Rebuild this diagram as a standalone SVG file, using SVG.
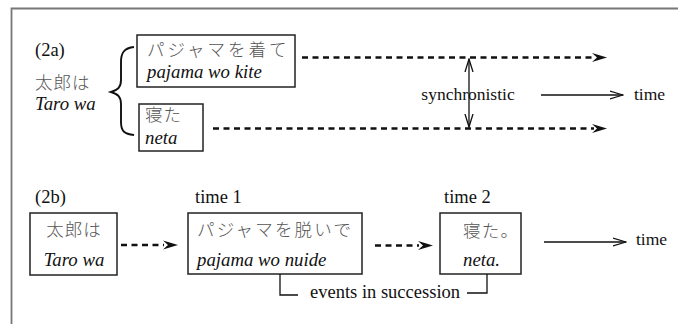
<svg xmlns="http://www.w3.org/2000/svg" width="678" height="324" viewBox="0 0 678 324">
<defs>
<style>
.t{font-family:'Liberation Serif',serif;font-size:18.5px;fill:#111}
.s{font-family:'Liberation Serif',serif;font-size:17.5px;fill:#111}
.i{font-family:'Liberation Serif',serif;font-size:18.8px;font-style:italic;fill:#111}
.j{font-family:'Noto Sans CJK JP',sans-serif;font-size:17.5px;fill:#555;font-weight:300}
.box{fill:#fff;stroke:#222;stroke-width:1.5}
.dash{fill:none;stroke:#111;stroke-width:2.6;stroke-dasharray:6 4.5}
.thin{fill:none;stroke:#111;stroke-width:1.3}
</style>
<marker id="fh" viewBox="0 0 15 10" refX="14" refY="5" markerWidth="15" markerHeight="10" markerUnits="userSpaceOnUse" orient="auto">
<path d="M0,0.5 L15,5 L0,9.5 L5,5 Z" fill="#111"/>
</marker>
<marker id="oh" viewBox="0 0 14 10" refX="13" refY="5" markerWidth="14" markerHeight="10" markerUnits="userSpaceOnUse" orient="auto-start-reverse">
<path d="M0,1 L13,5 L0,9" fill="none" stroke="#111" stroke-width="1.3"/>
</marker>
</defs>
<rect width="678" height="324" fill="#fff"/>
<g id="frame">
<path d="M11.5,324 V8.5 H678" fill="none" stroke="#777" stroke-width="1.8"/>
</g>
<g id="label-2a">
<text class="t" x="35" y="56">(2a)</text>
<text class="j" x="35" y="89" letter-spacing="1">太郎は</text>
<text class="i" x="35" y="110">Taro wa</text>
<path d="M134,47 C124,48 121,53 121,62 V80 C121,87 118,90 111,92 C118,94 121,97 121,104 V122 C121,131 124,134 134,135" fill="none" stroke="#111" stroke-width="1.9"/>
</g>
<g id="node-kite">
<rect class="box" x="137" y="35" width="158" height="52"/>
<text class="j" x="147" y="56" letter-spacing="3">パジャマを着て</text>
<text class="i" x="147" y="78">pajama wo kite</text>
</g>
<g id="node-neta-a">
<rect class="box" x="139" y="104" width="64" height="47"/>
<text class="j" x="145" y="121" letter-spacing="1">寝た</text>
<text class="i" x="145" y="144">neta</text>
</g>
<g id="label-sync">
<text class="s" x="468" y="100" text-anchor="middle">synchronistic</text>
</g>
<g id="label-time-a">
<text class="s" x="634" y="100">time</text>
</g>
<g id="label-2b">
<text class="t" x="35" y="203">(2b)</text>
<text class="t" x="195" y="203">time 1</text>
<text class="t" x="444" y="203">time 2</text>
</g>
<g id="node-taro">
<rect class="box" x="30" y="213" width="87" height="62"/>
<text class="j" x="74" y="236" text-anchor="middle" letter-spacing="1">太郎は</text>
<text class="i" x="74" y="266" text-anchor="middle">Taro wa</text>
</g>
<g id="node-nuide">
<rect class="box" x="188" y="213" width="174" height="61"/>
<text class="j" x="197" y="236" letter-spacing="2.2">パジャマを脱いで</text>
<text class="i" x="197" y="266">pajama wo nuide</text>
</g>
<g id="node-neta-b">
<rect class="box" x="440" y="213" width="81" height="61"/>
<text class="j" x="463" y="237" letter-spacing="1.2">寝た。</text>
<text class="i" x="463" y="266">neta.</text>
</g>
<g id="label-time-b">
<text class="s" x="636" y="245">time</text>
</g>
<g id="label-events">
<text class="t" x="310" y="298">events in succession</text>
</g>
<g id="connectors">
<line class="dash" x1="302" y1="57.5" x2="594" y2="57.5"/>
<line x1="592" y1="57.5" x2="606" y2="57.5" stroke="none" marker-end="url(#fh)"/>
<line class="dash" x1="213" y1="128.5" x2="594" y2="128.5"/>
<line x1="592" y1="128.5" x2="606" y2="128.5" stroke="none" marker-end="url(#fh)"/>
<line class="thin" x1="469" y1="59" x2="469" y2="127" marker-start="url(#oh)" marker-end="url(#oh)"/>
<line class="thin" x1="541" y1="95" x2="623" y2="95" marker-end="url(#oh)"/>
<line class="dash" x1="121" y1="245" x2="164" y2="245"/>
<line x1="162" y1="245" x2="177" y2="245" stroke="none" marker-end="url(#fh)"/>
<line class="dash" x1="375" y1="245.5" x2="419" y2="245.5"/>
<line x1="417" y1="245.5" x2="432" y2="245.5" stroke="none" marker-end="url(#fh)"/>
<line class="thin" x1="544" y1="242" x2="626" y2="242" marker-end="url(#oh)"/>
<path class="thin" d="M280,274 V295 H298"/>
<path class="thin" d="M467,293 H487 V274"/>
</g>
</svg>
